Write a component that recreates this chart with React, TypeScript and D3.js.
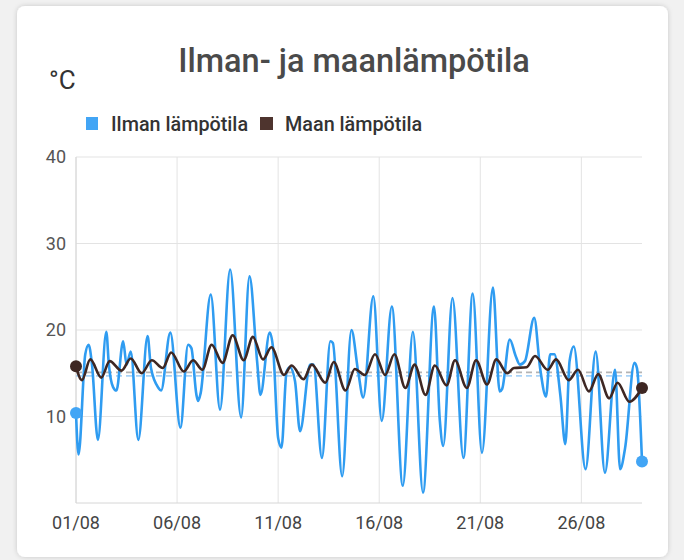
import React from "react";
import * as d3 from "d3";

// ---- Data (hours since 01/08 00:00, °C) ----
const airHours = [0, 3, 11, 15, 19, 26, 36, 39, 44, 48, 56, 60, 65, 74, 85, 89, 98, 101, 112, 124, 133, 137, 143, 145, 148, 160, 171, 183, 196, 206, 215, 219, 230, 234, 240, 244, 250, 254, 260, 266, 278, 282, 292, 302, 305, 316, 327, 335, 341, 353, 363, 375, 388, 400, 412, 425, 432, 436, 447, 460, 471, 482, 495, 503, 506, 515, 522, 527, 533, 544, 551, 558, 563, 568, 575, 581, 586, 591, 605, 617, 628, 640, 646, 652, 663, 666, 672];
const airTemps = [10.4, 5.6, 17.2, 18.3, 16.0, 7.3, 19.8, 16.0, 13.4, 13.0, 18.7, 16.0, 17.5, 7.3, 19.3, 15.6, 13.3, 13.0, 19.7, 8.7, 18.3, 17.9, 12.5, 11.8, 12.7, 24.1, 10.8, 27.0, 9.9, 26.2, 16.4, 12.5, 19.7, 17.9, 7.5, 6.4, 15.2, 15.7, 14.1, 8.3, 16.0, 16.0, 5.2, 18.7, 18.5, 3.1, 20.0, 15.2, 12.2, 23.9, 9.5, 22.7, 2.0, 19.8, 1.2, 22.7, 9.5, 6.6, 23.7, 5.2, 24.2, 5.8, 24.9, 12.9, 13.2, 18.9, 17.0, 16.0, 16.4, 21.4, 15.6, 12.3, 17.2, 17.2, 12.5, 6.8, 16.4, 18.1, 3.9, 17.5, 3.5, 15.4, 3.9, 6.4, 16.2, 15.6, 4.8];

const groundHours = [0, 7, 17, 30, 40, 54, 65, 78, 90, 103, 113, 128, 139, 150, 161, 174, 186, 199, 210, 222, 232, 247, 256, 270, 280, 296, 306, 320, 331, 343, 355, 367, 378, 391, 402, 415, 426, 440, 450, 464, 475, 488, 499, 512, 520, 535, 545, 560, 570, 585, 596, 609, 620, 633, 643, 657, 672];
const groundTemps = [15.8, 14.2, 16.6, 14.5, 16.4, 15.3, 16.7, 15.0, 16.5, 15.6, 17.4, 15.2, 16.5, 15.4, 18.3, 16.2, 19.4, 16.5, 19.2, 16.6, 18.0, 14.8, 15.9, 14.3, 16.0, 13.9, 16.3, 13.0, 15.5, 14.8, 17.2, 14.8, 17.2, 13.3, 16.0, 12.5, 15.9, 13.6, 16.5, 13.3, 16.5, 13.7, 16.6, 15.0, 15.6, 15.7, 17.0, 15.4, 16.6, 14.2, 15.4, 12.9, 14.9, 12.1, 13.9, 11.7, 13.3];

const meanAir = 14.7;
const meanGround = 15.1;

const yTicks = [10, 20, 30, 40];
const seriesNames = ["Ilman lämpötila", "Maan lämpötila"];
const title = "Ilman- ja maanlämpötila";
const unit = "°C";

const startDate = new Date(2023, 7, 1);
const endDate = new Date(2023, 7, 29);

const AIR = "#2F9CF1";
const AIR_LEG = "#42A5F5";
const GROUND = "#3E2723";
const GROUND_LEG = "#4E342E";

export default function App() {
  const W = 684, H = 560;
  const left = 76, right = 642, top = 157, bottom = 503;
  const toDate = (h: number) => new Date(startDate.getTime() + h * 3600 * 1000);

  const x = d3.scaleTime().domain([startDate, endDate]).range([left, right]);
  const y = d3.scaleLinear().domain([0, 40]).range([bottom, top]);
  const xTicks = x.ticks(d3.timeDay.every(5) as any).filter((d) => d <= endDate);
  const fmt = d3.timeFormat("%d/%m");

  const air = airHours.map((h, i) => ({ d: toDate(h), v: airTemps[i] }));
  const ground = groundHours.map((h, i) => ({ d: toDate(h), v: groundTemps[i] }));
  const line = d3
    .line<{ d: Date; v: number }>()
    .x((p) => x(p.d))
    .y((p) => y(p.v))
    .curve(d3.curveMonotoneX);

  const font = "Roboto, 'Noto Sans', sans-serif";
  const gridColor = "#e3e3e3";

  return (
    <svg width={W} height={H} style={{ position: "absolute", left: 0, top: 0, display: "block" }}>
      <defs>
        <filter id="sh" x="-5%" y="-5%" width="110%" height="110%">
          <feDropShadow dx="0" dy="0" stdDeviation="2.5" floodColor="#000" floodOpacity="0.18" />
        </filter>
      </defs>
      <rect x={0} y={0} width={W} height={H} fill="#f1f1f1" />
      <rect x={17} y={6} width={651} height={551} rx={8} fill="#fff" filter="url(#sh)" />

      <text x={354} y={72} textAnchor="middle" fontFamily={font} fontWeight={500} fontSize={32.5} fill="#4a4a4a">
        {title}
      </text>
      <text x={49} y={89} fontFamily={font} fontSize={26} fill="#333">{unit}</text>

      {/* legend */}
      <rect x={86} y={117} width={12} height={13} fill={AIR_LEG} />
      <text x={111} y={131} fontFamily={font} fontWeight={500} fontSize={19.8} fill="#333">{seriesNames[0]}</text>
      <rect x={260} y={117} width={13} height={13} fill={GROUND_LEG} />
      <text x={285} y={131} fontFamily={font} fontWeight={500} fontSize={19.8} fill="#333">{seriesNames[1]}</text>

      {/* grid */}
      {yTicks.map((t) => (
        <line key={"h" + t} x1={left} x2={right} y1={y(t)} y2={y(t)} stroke={gridColor} strokeWidth={1} />
      ))}
      {xTicks.map((t, i) => (
        <line key={"v" + i} x1={x(t)} x2={x(t)} y1={top} y2={bottom} stroke={gridColor} strokeWidth={1} />
      ))}
      <line x1={left} x2={right} y1={y(0)} y2={y(0)} stroke="#d6d6d6" strokeWidth={1} />
      <line x1={left} x2={left} y1={top} y2={bottom} stroke="#d6d6d6" strokeWidth={1} />

      {yTicks.map((t) => (
        <text key={"yl" + t} x={66} y={y(t)} dy="0.35em" textAnchor="end" fontFamily={font} fontSize={18} fill="#555">
          {t}
        </text>
      ))}
      {xTicks.map((t, i) => (
        <text key={"xl" + i} x={x(t)} y={529} textAnchor="middle" fontFamily={font} fontSize={18} fill="#444">
          {fmt(t)}
        </text>
      ))}

      {/* mean lines */}
      <line x1={left} x2={right} y1={y(meanGround)} y2={y(meanGround)} stroke="#b4b4b4" strokeWidth={1.8} strokeDasharray="6,4" />
      <line x1={left} x2={right} y1={y(meanAir)} y2={y(meanAir)} stroke="#a9d3f8" strokeWidth={1.8} strokeDasharray="6,4" />

      <path d={line(air) || ""} fill="none" stroke={AIR} strokeWidth={2.6} strokeLinejoin="round" />
      <path d={line(ground) || ""} fill="none" stroke={GROUND} strokeWidth={2.6} strokeLinejoin="round" />

      <circle cx={x(air[0].d)} cy={y(air[0].v)} r={6} fill={AIR_LEG} />
      <circle cx={x(air[air.length - 1].d)} cy={y(air[air.length - 1].v)} r={6} fill={AIR_LEG} />
      <circle cx={x(ground[0].d)} cy={y(ground[0].v)} r={6} fill={GROUND} />
      <circle cx={x(ground[ground.length - 1].d)} cy={y(ground[ground.length - 1].v)} r={6} fill={GROUND} />
    </svg>
  );
}
